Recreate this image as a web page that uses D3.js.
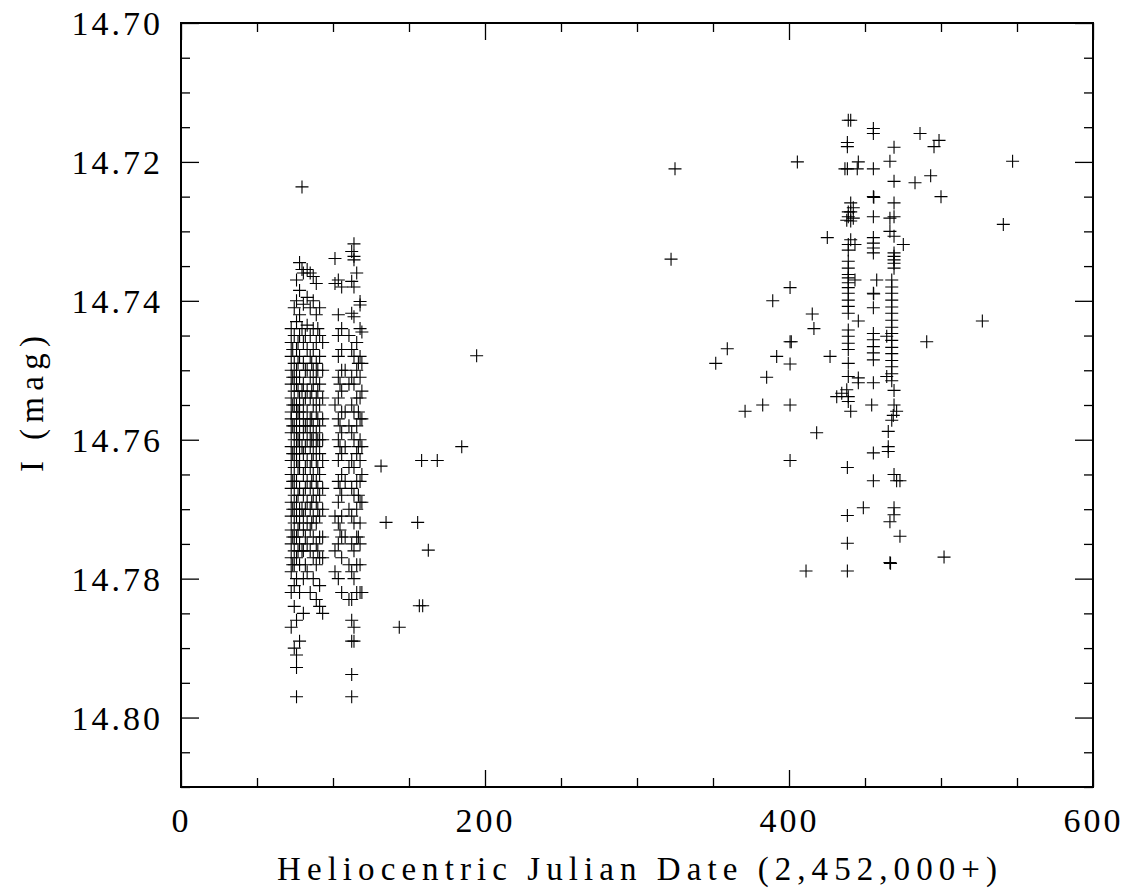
<!DOCTYPE html>
<html>
<head>
<meta charset="utf-8">
<script src="https://cdn.jsdelivr.net/npm/d3@7"></script>
<style>
  html, body { margin: 0; padding: 0; background: #fff; }
  svg { display: block; }
  text { font-family: "Liberation Serif", "DejaVu Serif", serif; fill: #000; }
</style>
</head>
<body>
<svg id="chart" width="1137" height="895"></svg>
<script>
// ---- Data ----
const xTicksMajor = [0, 200, 400, 600];
const yTicksMajor = [14.70, 14.72, 14.74, 14.76, 14.78, 14.80];
const xLabel = "Heliocentric Julian Date (2,452,000+)";
const yLabel = "I (mag)";

// First season, dense nightly columns: [day, [mags...]]
const season1NightsA = [
  [72.5, [14.744,14.746,14.748,14.750,14.752,14.754,14.756,14.757,14.759,14.761,14.763,14.765,14.767,14.769,14.771,14.773,14.775,14.777,14.779,14.782,14.787]],
  [73.5, [14.747,14.751,14.755,14.758,14.762,14.766,14.770,14.774,14.778]],
  [74.5, [14.741,14.745,14.749,14.751,14.753,14.755,14.758,14.760,14.762,14.764,14.766,14.768,14.770,14.772,14.774,14.776,14.778,14.781,14.784,14.790]],
  [76.0, [14.737,14.740,14.743,14.747,14.750,14.752,14.755,14.757,14.759,14.761,14.763,14.766,14.769,14.771,14.774,14.777,14.780,14.786,14.791,14.7928,14.797]],
  [77.0, [14.746,14.749,14.753,14.756,14.760,14.764,14.768,14.773,14.776]],
  [78.0, [14.7345,14.7385,14.742,14.745,14.748,14.751,14.754,14.756,14.758,14.760,14.762,14.764,14.767,14.770,14.772,14.775,14.778,14.782,14.789]],
  [79.6, [14.7236,14.7355,14.744,14.753,14.761,14.770,14.776]],
  [80.5, [14.736,14.7405,14.746,14.749,14.752,14.755,14.757,14.759,14.762,14.765,14.768,14.771,14.773,14.776,14.780,14.785]],
  [81.8, [14.745,14.750,14.754,14.758,14.761,14.764,14.767,14.770,14.774,14.778]],
  [83.0, [14.7355,14.7395,14.7435,14.747,14.750,14.753,14.756,14.758,14.760,14.763,14.766,14.769,14.772,14.775,14.779]],
  [85.0, [14.736,14.741,14.745,14.748,14.751,14.754,14.757,14.759,14.761,14.764,14.767,14.770,14.773,14.776,14.782]],
  [86.0, [14.749,14.753,14.757,14.760,14.763,14.766,14.769,14.772]],
  [87.0, [14.7365,14.740,14.744,14.747,14.750,14.752,14.755,14.758,14.760,14.762,14.765,14.768,14.771,14.774,14.777,14.780]],
  [89.0, [14.7375,14.742,14.746,14.749,14.751,14.754,14.756,14.759,14.761,14.763,14.766,14.769,14.772,14.775,14.778,14.783]],
  [90.0, [14.744,14.750,14.753,14.757,14.760,14.764,14.767,14.770,14.776]],
  [91.2, [14.741,14.745,14.748,14.752,14.755,14.758,14.760,14.762,14.765,14.768,14.771,14.774,14.777,14.781,14.784]],
  [93.2, [14.746,14.750,14.754,14.757,14.760,14.763,14.767,14.770,14.774,14.777,14.785]]
];
const season1NightsB = [
  [101.3, [14.7339,14.7375,14.755,14.771,14.776,14.779]],
  [103.5, [14.737,14.742,14.745,14.748,14.751,14.754,14.757,14.760,14.763,14.766,14.769,14.772,14.775,14.780]],
  [104.6, [14.752,14.758,14.761,14.767,14.773]],
  [105.7, [14.738,14.744,14.747,14.750,14.753,14.756,14.759,14.762,14.765,14.768,14.771,14.774,14.777,14.782]],
  [108.0, [14.750,14.756,14.761,14.766,14.774]],
  [110.5, [14.745,14.752,14.758,14.764,14.770,14.778,14.783]],
  [112.3, [14.7329,14.7372,14.7418,14.747,14.751,14.755,14.759,14.763,14.767,14.771,14.775,14.779,14.783,14.786,14.789,14.7938,14.797]],
  [113.8, [14.7318,14.7336,14.7341,14.738,14.7423,14.748,14.752,14.756,14.760,14.764,14.768,14.772,14.776,14.780,14.787,14.789]],
  [115.6, [14.736,14.746,14.750,14.754,14.758,14.762,14.766,14.770,14.774,14.778,14.782]],
  [116.7, [14.749,14.756,14.761,14.768,14.774]],
  [117.8, [14.7401,14.7406,14.744,14.748,14.751,14.754,14.757,14.760,14.763,14.766,14.769,14.772,14.775,14.778,14.782]],
  [119.0, [14.7445,14.749,14.753,14.757,14.761,14.765,14.769,14.782]]
];
// First season, sparse points: [day, mag]
const season1Sparse = [
  [194.5,14.7479],[184.7,14.7610],[158.3,14.7630],[168.6,14.7630],[131.6,14.7638],
  [134.9,14.7719],[155.7,14.7719],[162.7,14.7759],[156.8,14.7839],[159.0,14.7839],[143.6,14.7870]
];
// Second season: [day, mag]
const season2 = [
  [325.0,14.7210],[322.4,14.7340],[405.5,14.7200],[547.1,14.7199],[541.0,14.7290],[527.2,14.7429],
  [486.2,14.7159],[498.7,14.7169],[495.4,14.7178],[469.1,14.7179],[466.4,14.7199],[455.5,14.7152],
  [455.5,14.7159],[439.0,14.7140],[440.6,14.7140],[438.4,14.7172],[438.4,14.7178],[445.6,14.7200],
  [436.8,14.7210],[438.4,14.7210],[444.9,14.7210],[455.5,14.7210],[469.1,14.7228],[482.9,14.7230],
  [493.2,14.7220],[500.0,14.7250],[455.5,14.7250],[455.8,14.7251],[469.1,14.7259],
  [440.6,14.7259],[442.3,14.7266],[439.0,14.7272],[440.6,14.7272],[439.0,14.7279],[442.3,14.7281],
  [440.6,14.7285],[438.0,14.7284],[455.5,14.7279],[469.1,14.7279],[466.4,14.7281],[425.2,14.7309],
  [440.6,14.7312],[439.0,14.7319],[443.4,14.7319],[439.0,14.7327],
  [455.5,14.7309],[455.5,14.7317],[455.5,14.7324],[455.5,14.7331],
  [466.4,14.7300],[469.1,14.7307],[475.2,14.7319],
  [469.1,14.7331],[469.1,14.7336],[469.1,14.7341],[469.1,14.7346],[469.1,14.7353],
  [439.0,14.7343],[439.0,14.7353],[439.0,14.7362],[439.0,14.7367],[439.0,14.7374],[439.0,14.7381],[439.0,14.7389],
  [443.4,14.7370],[457.7,14.7370],[455.5,14.7389],[455.7,14.7390],[455.5,14.7410],
  [467.6,14.7370],[467.6,14.7380],[467.6,14.7389],[467.6,14.7399],[467.6,14.7409],[467.6,14.7418],
  [467.6,14.7428],[467.6,14.7438],[467.6,14.7447],[467.6,14.7457],[467.6,14.7467],[467.6,14.7476],
  [467.6,14.7486],[467.6,14.7495],[467.6,14.7505],[467.6,14.7515],[469.1,14.7529],
  [439.0,14.7399],[439.0,14.7408],[439.0,14.7418],[439.0,14.7442],[439.0,14.7451],[439.0,14.7461],
  [439.0,14.7470],[439.0,14.7490],[439.0,14.7509],[438.0,14.7528],[439.0,14.7538],[439.0,14.7545],[440.6,14.7559],
  [445.6,14.7429],
  [455.5,14.7447],[455.5,14.7456],[455.5,14.7466],[455.5,14.7475],[455.5,14.7485],
  [464.3,14.7451],[445.6,14.7511],[445.6,14.7518],[455.5,14.7518],[464.3,14.7509],[490.6,14.7459],
  [427.0,14.7480],[400.7,14.7381],[389.3,14.7400],[415.3,14.7419],[416.4,14.7440],[400.7,14.7459],
  [401.5,14.7459],[359.4,14.7469],[351.8,14.7490],[391.9,14.7480],[400.7,14.7491],[385.3,14.7510],
  [371.1,14.7559],[382.7,14.7550],[400.7,14.7550],[431.4,14.7538],[434.7,14.7533],[454.4,14.7550],
  [469.1,14.7550],[470.8,14.7559],[468.6,14.7565],[467.6,14.7572],
  [418.2,14.7590],[465.3,14.7588],[465.3,14.7610],[465.3,14.7617],[455.5,14.7619],[400.7,14.7630],
  [438.4,14.7640],[455.5,14.7659],[469.1,14.7650],[470.8,14.7659],[473.0,14.7659],[448.9,14.7698],
  [438.4,14.7709],[469.1,14.7698],[469.1,14.7708],[466.4,14.7718],[473.0,14.7739],[438.4,14.7749],
  [502.0,14.7769],[411.2,14.7789],[438.4,14.7789],[466.4,14.7777],[466.8,14.7778]
];

// ---- Build point list from the arrays ----
const nightsToPoints = nights => nights.flatMap(([d, ms]) => ms.map(m => [d, m]));
const points = [
  ...nightsToPoints(season1NightsA),
  ...nightsToPoints(season1NightsB),
  ...season1Sparse,
  ...season2
];

// ---- Layout ----
const svg = d3.select("#chart");
const mLeft = 181, mRight = 1093, mTop = 23, mBottom = 787;
const x = d3.scaleLinear().domain([0, 600]).range([mLeft, mRight]);
const y = d3.scaleLinear().domain([14.70, 14.81]).range([mTop, mBottom]);

const xMinor = d3.range(0, 601, 50).filter(v => v % 200 !== 0);
const yMinor = d3.range(0, 23).map(i => +(14.70 + i * 0.005).toFixed(3)).filter(v => Math.round(v * 1000) % 20 !== 0);

const tickStroke = g => g.selectAll(".tick line").attr("stroke", "#000").attr("stroke-width", 1.3);

// bottom axis: major with labels
const gB = svg.append("g").attr("transform", `translate(0,${mBottom})`)
  .call(d3.axisBottom(x).tickValues(xTicksMajor).tickSizeInner(-17).tickSizeOuter(0).tickPadding(21).tickFormat(d3.format("d")));
gB.select(".domain").remove();
gB.call(tickStroke);
gB.selectAll("text").attr("font-size", 34).attr("font-family", "Liberation Serif, serif").style("letter-spacing", "3px");
svg.append("g").attr("transform", `translate(0,${mBottom})`)
  .call(d3.axisBottom(x).tickValues(xMinor).tickSizeInner(-9).tickSizeOuter(0).tickFormat(""))
  .call(g => g.select(".domain").remove()).call(tickStroke);

// top axis
svg.append("g").attr("transform", `translate(0,${mTop})`)
  .call(d3.axisTop(x).tickValues(xTicksMajor).tickSizeInner(-17).tickSizeOuter(0).tickFormat(""))
  .call(g => g.select(".domain").remove()).call(tickStroke);
svg.append("g").attr("transform", `translate(0,${mTop})`)
  .call(d3.axisTop(x).tickValues(xMinor).tickSizeInner(-9).tickSizeOuter(0).tickFormat(""))
  .call(g => g.select(".domain").remove()).call(tickStroke);

// left axis
const gL = svg.append("g").attr("transform", `translate(${mLeft},0)`)
  .call(d3.axisLeft(y).tickValues(yTicksMajor).tickSizeInner(-18).tickSizeOuter(0).tickPadding(18).tickFormat(d3.format(".2f")));
gL.select(".domain").remove();
gL.call(tickStroke);
gL.selectAll("text").attr("font-size", 34).style("letter-spacing", "3px").attr("dy", "0.34em");
svg.append("g").attr("transform", `translate(${mLeft},0)`)
  .call(d3.axisLeft(y).tickValues(yMinor).tickSizeInner(-9).tickSizeOuter(0).tickFormat(""))
  .call(g => g.select(".domain").remove()).call(tickStroke);

// right axis
svg.append("g").attr("transform", `translate(${mRight},0)`)
  .call(d3.axisRight(y).tickValues(yTicksMajor).tickSizeInner(-18).tickSizeOuter(0).tickFormat(""))
  .call(g => g.select(".domain").remove()).call(tickStroke);
svg.append("g").attr("transform", `translate(${mRight},0)`)
  .call(d3.axisRight(y).tickValues(yMinor).tickSizeInner(-9).tickSizeOuter(0).tickFormat(""))
  .call(g => g.select(".domain").remove()).call(tickStroke);

// frame
svg.append("rect")
  .attr("x", mLeft).attr("y", mTop).attr("width", mRight - mLeft).attr("height", mBottom - mTop)
  .attr("fill", "none").attr("stroke", "#000").attr("stroke-width", 2);

// points as "+" markers
const h = 6.5;
const pts = svg.append("g").attr("stroke", "#000").attr("stroke-width", 1.1).attr("fill", "none");
pts.selectAll("path").data(points).join("path")
  .attr("d", d => {
    const cx = x(d[0]), cy = y(d[1]);
    return `M${cx - h},${cy}H${cx + h}M${cx},${cy - h}V${cy + h}`;
  });

// axis titles
svg.append("text")
  .attr("x", 277).attr("y", 880)
  .attr("font-size", 33)
  .attr("textLength", 720).attr("lengthAdjust", "spacing")
  .text(xLabel);

svg.append("text")
  .attr("transform", "translate(43,472) rotate(-90)")
  .attr("font-size", 33)
  .attr("textLength", 136).attr("lengthAdjust", "spacing")
  .text(yLabel);
</script>
</body>
</html>
